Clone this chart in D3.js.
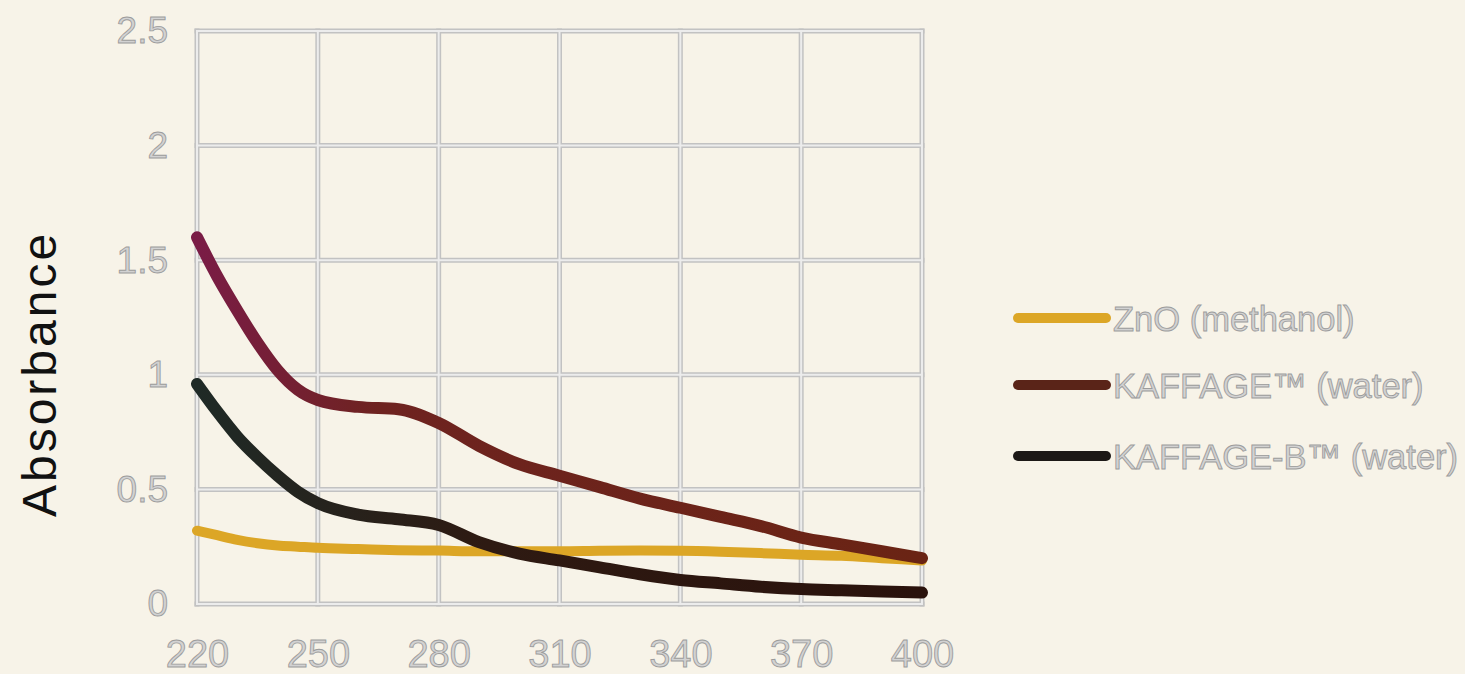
<!DOCTYPE html>
<html>
<head>
<meta charset="utf-8">
<script src="https://cdn.jsdelivr.net/npm/d3@7"></script>
<style>
  html, body { margin: 0; padding: 0; background: #f7f3e8; overflow: hidden; }
  svg { display: block; }
</style>
</head>
<body>
<svg id="chart" width="1465" height="674"></svg>
<script>
// Wavelength (nm) sampling points
const wavelengths = [220, 225, 230, 235, 240, 245, 250, 260, 270, 280, 290, 300, 310, 320, 330, 340, 350, 360, 370, 380, 390, 400];

// Absorbance per series
const znoMethanol = [0.32, 0.30, 0.28, 0.265, 0.255, 0.25, 0.245, 0.24, 0.235, 0.233, 0.23, 0.23, 0.23, 0.232, 0.233, 0.232, 0.228, 0.222, 0.215, 0.21, 0.20, 0.19];
const kaffageWater = [1.60, 1.43, 1.28, 1.14, 1.02, 0.935, 0.89, 0.86, 0.85, 0.79, 0.69, 0.61, 0.56, 0.51, 0.46, 0.42, 0.38, 0.34, 0.29, 0.26, 0.23, 0.20];
const kaffageBWater = [0.96, 0.84, 0.73, 0.64, 0.56, 0.49, 0.44, 0.39, 0.37, 0.345, 0.27, 0.22, 0.19, 0.16, 0.13, 0.105, 0.09, 0.075, 0.065, 0.06, 0.055, 0.05];

// Axis ticks
const xTicks = [220, 250, 280, 310, 340, 370, 400];
const yTicks = [0, 0.5, 1, 1.5, 2, 2.5];
const yTickLabels = ["0", "0.5", "1", "1.5", "2", "2.5"];

const seriesNames = ["ZnO (methanol)", "KAFFAGE\u2122 (water)", "KAFFAGE-B\u2122 (water)"];
const seriesValues = [znoMethanol, kaffageWater, kaffageBWater];

const svg = d3.select("#chart");
const plot = { left: 197, right: 922, top: 31, bottom: 604 };

const x = d3.scaleLinear().domain([220, 400]).range([plot.left, plot.right]);
const y = d3.scaleLinear().domain([0, 2.5]).range([plot.bottom, plot.top]);

const defs = svg.append("defs");
const grad = defs.append("linearGradient")
  .attr("id", "kaffageGrad")
  .attr("gradientUnits", "userSpaceOnUse")
  .attr("x1", x(220)).attr("x2", x(400)).attr("y1", 0).attr("y2", 0);
grad.append("stop").attr("offset", "0%").attr("stop-color", "#7a1c46");
grad.append("stop").attr("offset", "25%").attr("stop-color", "#6e2320");
grad.append("stop").attr("offset", "100%").attr("stop-color", "#6a2414");

const gradB = defs.append("linearGradient")
  .attr("id", "kaffageBGrad")
  .attr("gradientUnits", "userSpaceOnUse")
  .attr("x1", x(220)).attr("x2", x(400)).attr("y1", 0).attr("y2", 0);
gradB.append("stop").attr("offset", "0%").attr("stop-color", "#1f2a26");
gradB.append("stop").attr("offset", "40%").attr("stop-color", "#2e1a12");
gradB.append("stop").attr("offset", "100%").attr("stop-color", "#2a120c");

const colors = ["#dca626", "url(#kaffageGrad)", "url(#kaffageBGrad)"];
const legendColors = ["#dca626", "#5a2418", "#1c1816"];

// Grid
const grid = svg.append("g");
function gridLines(stroke, width) {
  grid.append("g").selectAll("line").data(xTicks).join("line")
    .attr("x1", d => x(d)).attr("x2", d => x(d))
    .attr("y1", plot.top).attr("y2", plot.bottom)
    .attr("stroke", stroke).attr("stroke-width", width).attr("stroke-linecap", "square");
  grid.append("g").selectAll("line").data(yTicks).join("line")
    .attr("x1", plot.left).attr("x2", plot.right)
    .attr("y1", d => y(d)).attr("y2", d => y(d))
    .attr("stroke", stroke).attr("stroke-width", width).attr("stroke-linecap", "square");
}
gridLines("#c2c2c2", 5);
gridLines("#ececec", 2);

// Tick labels
const labelFont = "'Liberation Sans', Arial, sans-serif";
const axisText = { fill: "#d2d2d2", stroke: "#9c9c9c", sw: 0.9 };

const xAxis = d3.axisBottom(x).tickValues(xTicks).tickSize(0).tickPadding(0).tickFormat(d3.format("d"));
const xg = svg.append("g").attr("transform", `translate(0, ${plot.bottom})`).call(xAxis);
xg.select(".domain").remove();
xg.selectAll("text")
  .attr("dy", 0).attr("y", 63)
  .attr("font-family", labelFont).attr("font-size", 38)
  .attr("fill", axisText.fill).attr("stroke", axisText.stroke).attr("stroke-width", axisText.sw);

const yAxis = d3.axisLeft(y).tickValues(yTicks).tickSize(0).tickPadding(29)
  .tickFormat((d, i) => yTickLabels[i]);
const yg = svg.append("g").attr("transform", `translate(${plot.left}, 0)`).call(yAxis);
yg.select(".domain").remove();
yg.selectAll("text")
  .attr("font-family", labelFont).attr("font-size", 37)
  .attr("fill", axisText.fill).attr("stroke", axisText.stroke).attr("stroke-width", axisText.sw);

// Y axis title
svg.append("text")
  .attr("transform", `translate(56, 374) rotate(-90)`)
  .attr("text-anchor", "middle")
  .attr("font-family", labelFont).attr("font-size", 48)
  .attr("letter-spacing", 3)
  .attr("fill", "#111")
  .text("Absorbance");

// Curves
const line = d3.line()
  .x((d, i) => x(wavelengths[i]))
  .y(d => y(d))
  .curve(d3.curveMonotoneX);

const widths = [10, 12, 12];
seriesValues.forEach((vals, k) => {
  svg.append("path")
    .datum(vals)
    .attr("d", line)
    .attr("fill", "none")
    .attr("stroke", colors[k])
    .attr("stroke-width", widths[k])
    .attr("stroke-linecap", "round")
    .attr("stroke-linejoin", "round");
});

// Legend
const legendY = [318, 385, 456];
const lg = svg.append("g");
seriesNames.forEach((name, k) => {
  lg.append("line")
    .attr("x1", 1018).attr("x2", 1106)
    .attr("y1", legendY[k]).attr("y2", legendY[k])
    .attr("stroke", legendColors[k]).attr("stroke-width", 10)
    .attr("stroke-linecap", "round");
  lg.append("text")
    .attr("x", 1113).attr("y", legendY[k] + 13)
    .attr("font-family", labelFont).attr("font-size", 34.5)
    .attr("fill", axisText.fill).attr("stroke", axisText.stroke).attr("stroke-width", axisText.sw)
    .text(name);
});
</script>
</body>
</html>
